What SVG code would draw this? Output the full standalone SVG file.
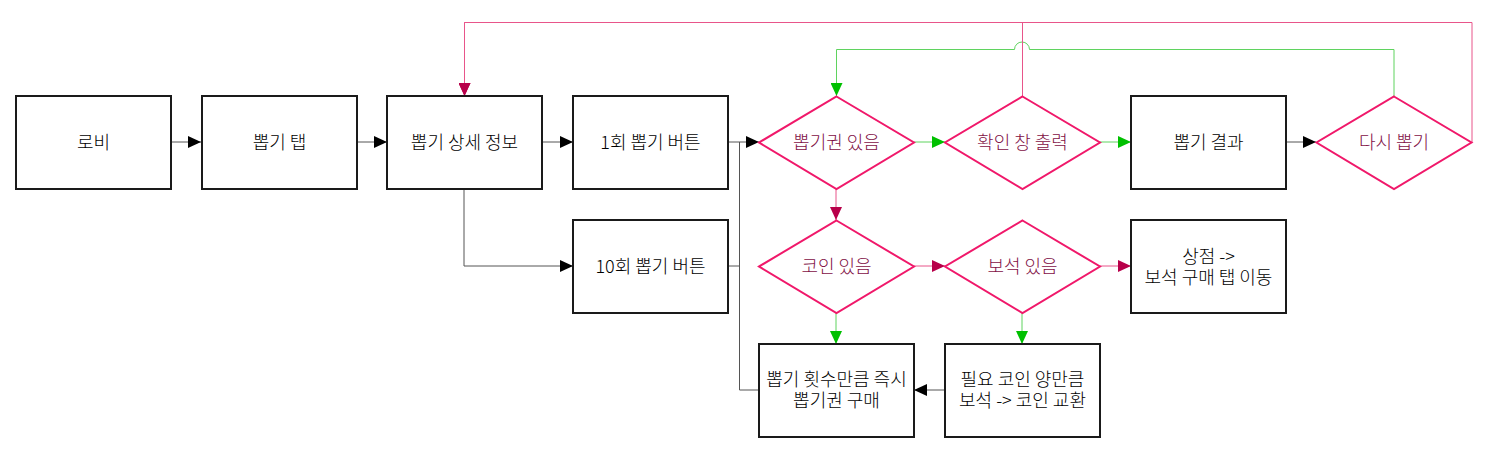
<svg xmlns="http://www.w3.org/2000/svg" width="1492" height="459" viewBox="0 0 1492 459">
<style>
.box{fill:#fff;stroke:#1a1a1a;stroke-width:2}
.dia{fill:#fff;stroke:#f0186a;stroke-width:2}
.t{font-family:"Noto Sans CJK KR","Noto Sans",sans-serif;font-size:18px;font-weight:300;text-anchor:middle;fill:#000}
.td{fill:#7f0f45}
.cb{fill:none;stroke:#555;stroke-width:1}
.cg{fill:none;stroke:#5fd35f;stroke-width:1}
.cp{fill:none;stroke:#e8558a;stroke-width:1}
</style>
<defs>
<marker id="ab" markerUnits="userSpaceOnUse" markerWidth="14" markerHeight="12" refX="13" refY="6" orient="auto"><path d="M0,0 L13,6 L0,12 Z" fill="#000"/></marker>
<marker id="ag" markerUnits="userSpaceOnUse" markerWidth="14" markerHeight="12" refX="13" refY="6" orient="auto"><path d="M0,0 L13,6 L0,12 Z" fill="#00c000"/></marker>
<marker id="ap" markerUnits="userSpaceOnUse" markerWidth="14" markerHeight="12" refX="13" refY="6" orient="auto"><path d="M0,0 L13,6 L0,12 Z" fill="#b8004a"/></marker>
</defs>
<rect width="1492" height="459" fill="#fff"/>
<g id="connectors">
<path class="cb" d="M171,142 H201" marker-end="url(#ab)"/>
<path class="cb" d="M357,142 H387" marker-end="url(#ab)"/>
<path class="cb" d="M543,142 H573" marker-end="url(#ab)"/>
<path class="cb" d="M464,189 V266 H573" marker-end="url(#ab)"/>
<path class="cb" d="M729,142 H759" marker-end="url(#ab)"/>
<path class="cb" d="M729,266 H739.5 V142"/>
<path class="cb" d="M759,390 H739.5 V142"/>
<path class="cb" d="M945,390 H914" marker-end="url(#ab)"/>
<path class="cb" d="M1287,142 H1316" marker-end="url(#ab)"/>
<path class="cg" d="M914,142 H945" marker-end="url(#ag)"/>
<path class="cg" d="M1100,142 H1131" marker-end="url(#ag)"/>
<path class="cg" d="M836,313 V344" marker-end="url(#ag)"/>
<path class="cg" d="M1022,313 V344" marker-end="url(#ag)"/>
<path class="cg" d="M1394,96 V49.5 H1029.5 A7.5,7.5 0 0 0 1014.5,49.5 H836.5 V96" marker-end="url(#ag)"/>
<path class="cp" d="M836,189 V220" marker-end="url(#ap)"/>
<path class="cp" d="M914,266 H945" marker-end="url(#ap)"/>
<path class="cp" d="M1100,266 H1131" marker-end="url(#ap)"/>
<path class="cp" d="M1472,142 V22.5 H464.5 V96" marker-end="url(#ap)"/>
<path class="cp" d="M1022.5,96 V22.5 H464.5 V96" marker-end="url(#ap)"/>
</g>
<g id="n-lobby"><rect class="box" x="16" y="96" width="155" height="93"/><text class="t" x="93.5" y="149">로비</text></g>
<g id="n-tab"><rect class="box" x="202" y="96" width="155" height="93"/><text class="t" x="279.5" y="149">뽑기 탭</text></g>
<g id="n-detail"><rect class="box" x="387" y="96" width="155" height="93"/><text class="t" x="464.5" y="149">뽑기 상세 정보</text></g>
<g id="n-btn1"><rect class="box" x="573" y="96" width="155" height="93"/><text class="t" x="650.5" y="149">1회 뽑기 버튼</text></g>
<g id="n-btn10"><rect class="box" x="573" y="220" width="155" height="93"/><text class="t" x="650.5" y="273">10회 뽑기 버튼</text></g>
<g id="n-ticket"><path class="dia" d="M836.5,96.5 L914,142.5 L836.5,189 L759,142.5 Z"/><text class="t td" x="836.5" y="149">뽑기권 있음</text></g>
<g id="n-confirm"><path class="dia" d="M1022.5,96.5 L1100,142.5 L1022.5,189 L945,142.5 Z"/><text class="t td" x="1022.5" y="149">확인 창 출력</text></g>
<g id="n-result"><rect class="box" x="1131" y="96" width="155" height="93"/><text class="t" x="1208.5" y="149">뽑기 결과</text></g>
<g id="n-again"><path class="dia" d="M1394,96.5 L1471.5,142.5 L1394,189 L1316.5,142.5 Z"/><text class="t td" x="1394" y="149">다시 뽑기</text></g>
<g id="n-coin"><path class="dia" d="M836.5,220.5 L914,266.5 L836.5,313 L759,266.5 Z"/><text class="t td" x="836.5" y="273">코인 있음</text></g>
<g id="n-gem"><path class="dia" d="M1022.5,220.5 L1100,266.5 L1022.5,313 L945,266.5 Z"/><text class="t td" x="1022.5" y="273">보석 있음</text></g>
<g id="n-shop"><rect class="box" x="1131" y="220" width="155" height="93"/><text class="t" x="1208.5" y="262.5">상점 -&gt;</text><text class="t" x="1208.5" y="283.5">보석 구매 탭 이동</text></g>
<g id="n-buy"><rect class="box" x="759" y="344" width="155" height="93"/><text class="t" x="836.5" y="386">뽑기 횟수만큼 즉시</text><text class="t" x="836.5" y="407">뽑기권 구매</text></g>
<g id="n-exchange"><rect class="box" x="945" y="344" width="155" height="93"/><text class="t" x="1022.5" y="386">필요 코인 양만큼</text><text class="t" x="1022.5" y="407">보석 -&gt; 코인 교환</text></g>
</svg>
